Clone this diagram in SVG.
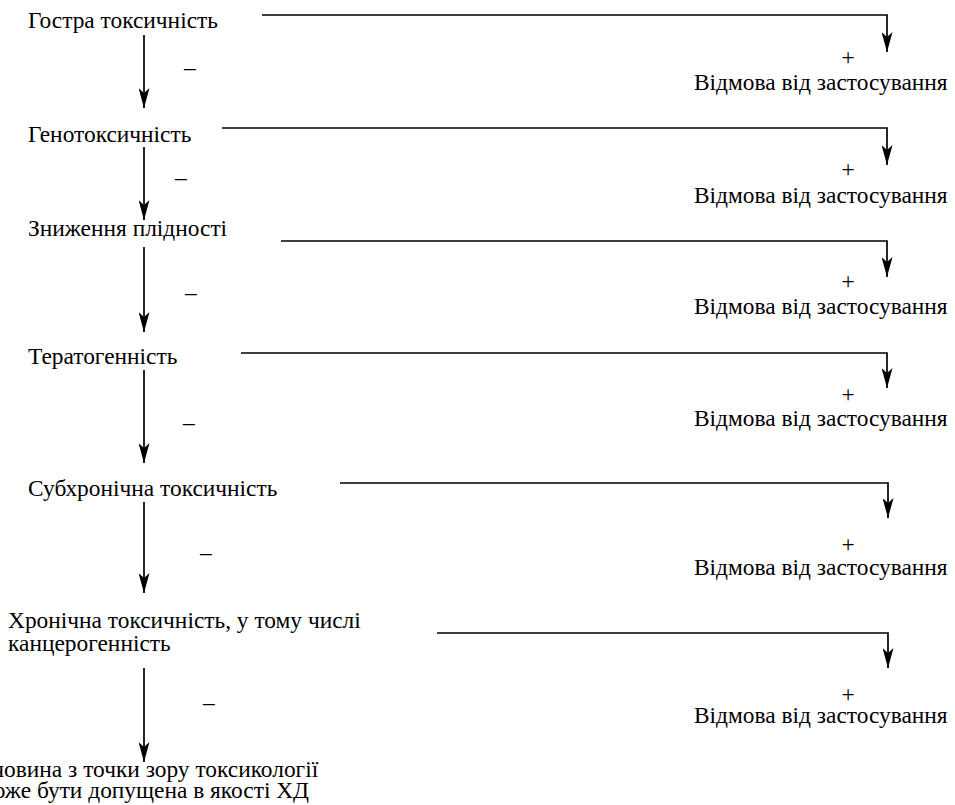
<svg xmlns="http://www.w3.org/2000/svg" width="955" height="805" viewBox="0 0 955 805">
  <defs>
    <!-- filled arrowhead with a shallow notch -->
    <marker id="arrow" markerUnits="userSpaceOnUse" viewBox="0 0 20 11" refX="20" refY="5.5" markerWidth="20" markerHeight="11" orient="auto">
      <path d="M0,0 L20,5.5 L0,11 L5,5.5 Z" fill="#000"/>
    </marker>
  </defs>

  <!-- main chain of tests -->
  <g id="acute"><text x="28" y="28" font-family="Liberation Serif, serif" font-size="23.4">Гостра токсичність</text></g>
  <g id="genotox"><text x="28" y="142" font-family="Liberation Serif, serif" font-size="23.4">Генотоксичність</text></g>
  <g id="fertility"><text x="28" y="236" font-family="Liberation Serif, serif" font-size="23.4">Зниження плідності</text></g>
  <g id="teratogen"><text x="28" y="364" font-family="Liberation Serif, serif" font-size="23.4">Тератогенність</text></g>
  <g id="subchronic"><text x="28" y="496" font-family="Liberation Serif, serif" font-size="23.4">Субхронічна токсичність</text></g>
  <g id="chronic">
    <text x="8" y="628" font-family="Liberation Serif, serif" font-size="23.4">Хронічна токсичність, у тому числі</text>
    <text x="8" y="651" font-family="Liberation Serif, serif" font-size="23.4">канцерогенність</text>
  </g>
  <g id="approved">
    <text x="144" y="777" text-anchor="middle" font-family="Liberation Serif, serif" font-size="23.4">Речовина з точки зору токсикології</text>
    <text x="144" y="798" text-anchor="middle" font-family="Liberation Serif, serif" font-size="23.4">може бути допущена в якості ХД</text>
  </g>

  <!-- rejection outcomes -->
  <g id="reject1"><text x="694" y="90" font-family="Liberation Serif, serif" font-size="23.4">Відмова від застосування</text></g>
  <g id="reject2"><text x="694" y="203" font-family="Liberation Serif, serif" font-size="23.4">Відмова від застосування</text></g>
  <g id="reject3"><text x="694" y="314" font-family="Liberation Serif, serif" font-size="23.4">Відмова від застосування</text></g>
  <g id="reject4"><text x="694" y="426" font-family="Liberation Serif, serif" font-size="23.4">Відмова від застосування</text></g>
  <g id="reject5"><text x="694" y="575" font-family="Liberation Serif, serif" font-size="23.4">Відмова від застосування</text></g>
  <g id="reject6"><text x="694" y="723" font-family="Liberation Serif, serif" font-size="23.4">Відмова від застосування</text></g>

  <!-- connectors -->
  <g id="connectors" fill="none" stroke="#000" stroke-width="1.7" marker-end="url(#arrow)">
    <path d="M144,35 V108"/>
    <path d="M144,147 V220"/>
    <path d="M144,247 V332"/>
    <path d="M144,370 V463"/>
    <path d="M144,502 V593"/>
    <path d="M144,668 V762"/>

    <path d="M262,15 H887 V52"/>
    <path d="M222,128 H887 V165"/>
    <path d="M281,241 H887 V277"/>
    <path d="M241,353 H887 V388"/>
    <path d="M340,483 H888 V518"/>
    <path d="M437,633 H888 V668"/>
  </g>

  <!-- outcome signs on the connectors -->
  <g id="signs" fill="#000">
    <text x="184" y="75" font-family="Liberation Serif, serif" font-size="23.4">–</text>
    <text x="175" y="185" font-family="Liberation Serif, serif" font-size="23.4">–</text>
    <text x="185" y="300" font-family="Liberation Serif, serif" font-size="23.4">–</text>
    <text x="183" y="430" font-family="Liberation Serif, serif" font-size="23.4">–</text>
    <text x="200" y="560" font-family="Liberation Serif, serif" font-size="23.4">–</text>
    <text x="203" y="710" font-family="Liberation Serif, serif" font-size="23.4">–</text>

    <text x="848" y="65" text-anchor="middle" font-family="Liberation Serif, serif" font-size="23.4">+</text>
    <text x="848" y="177" text-anchor="middle" font-family="Liberation Serif, serif" font-size="23.4">+</text>
    <text x="848" y="289" text-anchor="middle" font-family="Liberation Serif, serif" font-size="23.4">+</text>
    <text x="848" y="402" text-anchor="middle" font-family="Liberation Serif, serif" font-size="23.4">+</text>
    <text x="848" y="552" text-anchor="middle" font-family="Liberation Serif, serif" font-size="23.4">+</text>
    <text x="848" y="702" text-anchor="middle" font-family="Liberation Serif, serif" font-size="23.4">+</text>
  </g>
</svg>
